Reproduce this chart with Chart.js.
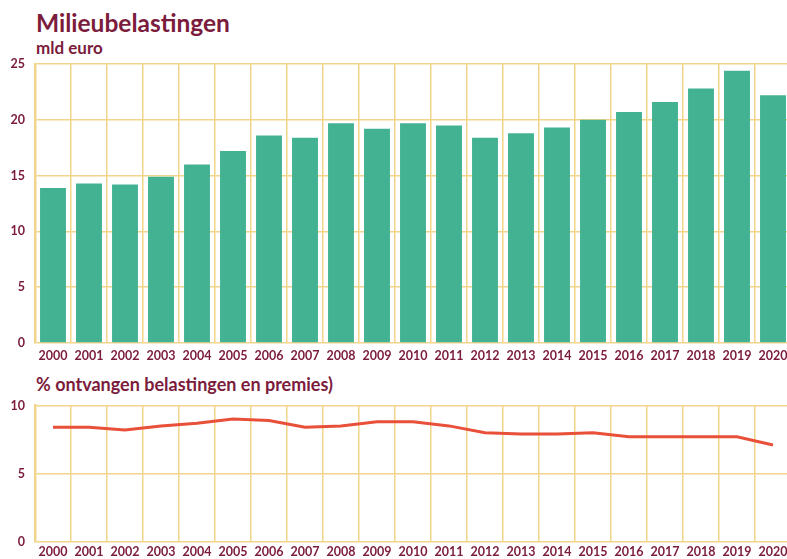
<!DOCTYPE html>
<html lang="nl">
<head>
  <meta charset="UTF-8" />
  <title>Milieubelastingen</title>
  <script src="https://cdn.jsdelivr.net/npm/chart.js"></script>
  <style>
    body {
      margin: 0;
      width: 787px;
      height: 559px;
      overflow: hidden;
      background: #fff;
      font-family: Lato, sans-serif;
      color: #7b1c3c;
      position: relative;
    }
    .title { position: absolute; left: 36px; top: 8px; font-size: 24.5px; font-weight: 700; }
    .sub { position: absolute; left: 36px; top: 37px; font-size: 17px; font-weight: 700; }
    .sub2 { position: absolute; left: 36px; top: 373px; font-size: 18px; font-weight: 700; }
    canvas { position: absolute; left: 0; }
    #bars { top: 0; }
    #pct { top: 388px; }
  </style>
</head>
<body>
  <div class="title">Milieubelastingen</div>
  <div class="sub">mld euro</div>
  <div class="sub2">% ontvangen belastingen en premies)</div>
  <canvas id="bars" width="800" height="370"></canvas>
  <canvas id="pct" width="800" height="171"></canvas>

  <script>
    const years = ['2000','2001','2002','2003','2004','2005','2006','2007','2008','2009','2010',
                   '2011','2012','2013','2014','2015','2016','2017','2018','2019','2020'];
    // milieubelastingen, mld euro
    const taxBillions = [13.9, 14.3, 14.2, 14.9, 16.0, 17.2, 18.6, 18.4, 19.7, 19.2, 19.7,
                         19.5, 18.4, 18.8, 19.3, 20.0, 20.7, 21.6, 22.8, 24.4, 22.2];
    // % van ontvangen belastingen en premies
    const taxShare = [8.4, 8.4, 8.2, 8.5, 8.7, 9.0, 8.9, 8.4, 8.5, 8.8, 8.8,
                      8.5, 8.0, 7.9, 7.9, 8.0, 7.7, 7.7, 7.7, 7.7, 7.1];

    const maroon = '#7b1c3c';
    const gridCol = '#f2d48b';
    const tickFont = { family: 'Lato, sans-serif', size: 12.5, weight: 'bold' };

    function xScale(h, pad) {
      return {
        offset: true,
        grid: { offset: true, color: gridCol, lineWidth: 1.5, drawTicks: false },
        border: { display: false },
        ticks: { color: maroon, font: tickFont, padding: pad, maxRotation: 0, autoSkip: false },
        afterFit: s => { s.height = h; }
      };
    }
    function yScale(max) {
      return {
        min: 0, max: max,
        ticks: { stepSize: 5, color: maroon, font: tickFont, padding: 10 },
        grid: { color: gridCol, lineWidth: 1.5, drawTicks: false },
        border: { color: gridCol, width: 2.5 },
        afterFit: s => { s.width = 35; }
      };
    }

    new Chart(document.getElementById('bars'), {
      type: 'bar',
      data: {
        labels: years,
        datasets: [{
          data: taxBillions,
          backgroundColor: '#43b293',
          barPercentage: 0.72,
          categoryPercentage: 1
        }]
      },
      options: {
        responsive: false,
        animation: false,
        layout: { padding: { top: 64, right: 9, bottom: 5, left: 0 } },
        plugins: { legend: { display: false }, tooltip: { enabled: false } },
        scales: { x: xScale(22, 5), y: yScale(25) }
      }
    });

    new Chart(document.getElementById('pct'), {
      type: 'line',
      data: {
        labels: years,
        datasets: [{
          data: taxShare,
          borderColor: '#e8503a',
          borderWidth: 3,
          pointRadius: 0,
          tension: 0,
          fill: false
        }]
      },
      options: {
        responsive: false,
        animation: false,
        layout: { padding: { top: 2, right: 9, bottom: 0, left: 0 } },
        plugins: { legend: { display: false }, tooltip: { enabled: false } },
        scales: { x: xScale(15, 3), y: yScale(10) }
      }
    });
  </script>
</body>
</html>
